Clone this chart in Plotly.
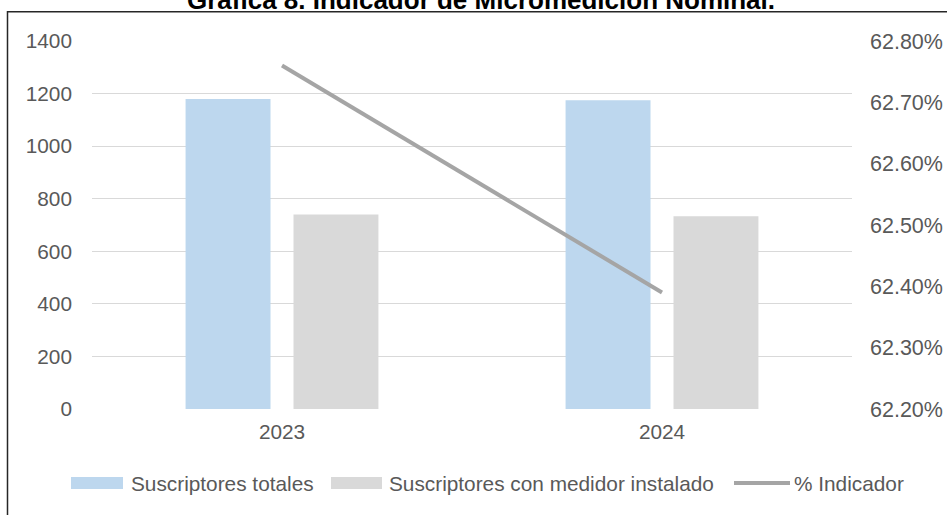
import plotly.graph_objects as go

# --- data -------------------------------------------------------------
years = ["2023", "2024"]
suscriptores_totales = [1179, 1175]
suscriptores_con_medidor = [740, 733]
indicador_pct = [62.76, 62.39]          # % Indicador (right axis)

left_ticks = [0, 200, 400, 600, 800, 1000, 1200, 1400]
right_ticks = [62.2, 62.3, 62.4, 62.5, 62.6, 62.7, 62.8]
right_ticktext = ["62.20%", "62.30%", "62.40%", "62.50%", "62.60%", "62.70%", "62.80%"]

title_text = "Gráfica 8. Indicador de Micromedición Nominal."
names = ["Suscriptores totales", "Suscriptores con medidor instalado", "% Indicador"]

# --- styling ----------------------------------------------------------
BLUE = "#BDD7EE"
GREY_BAR = "#D9D9D9"
GREY_LINE = "#A5A5A5"
TEXT = "#595959"
FONT = "Liberation Sans, Arial, sans-serif"
FS = 20.8

W, H = 947, 515
ML, MR, MT, MB = 92, 95, 41, 106
PW, PH = W - ML - MR, H - MT - MB


def px_x(x):
    return (x - ML) / PW


def px_y(y):
    return (H - MB - y) / PH


fig = go.Figure()
fig.add_trace(go.Bar(x=years, y=suscriptores_totales, name=names[0],
                     marker=dict(color=BLUE, line=dict(width=0))))
fig.add_trace(go.Bar(x=years, y=suscriptores_con_medidor, name=names[1],
                     marker=dict(color=GREY_BAR, line=dict(width=0))))
fig.add_trace(go.Scatter(x=years, y=indicador_pct, name=names[2], yaxis="y2",
                         mode="lines", line=dict(color=GREY_LINE, width=4)))

fig.update_layout(
    width=W, height=H,
    margin=dict(l=ML, r=MR, t=MT, b=MB, autoexpand=False),
    paper_bgcolor="white", plot_bgcolor="white",
    barmode="group", bargap=0.432, bargroupgap=0.213,
    showlegend=False,
    font=dict(family=FONT, size=FS, color=TEXT),
    xaxis=dict(type="category", range=[-0.5, 1.5], showgrid=False,
               showline=False, zeroline=False, ticks="", automargin=False,
               ticklabelstandoff=8,
               tickfont=dict(family=FONT, size=FS, color=TEXT)),
    yaxis=dict(range=[0, 1400], tickvals=left_ticks, showgrid=True,
               gridcolor="#D9D9D9", gridwidth=1, zeroline=False,
               showline=False, ticks="", ticklabelstandoff=19, automargin=False,
               tickfont=dict(family=FONT, size=FS, color=TEXT)),
    yaxis2=dict(range=[62.2, 62.8], overlaying="y", side="right",
                tickvals=right_ticks, ticktext=right_ticktext,
                showgrid=False, zeroline=False, showline=False, ticks="",
                ticklabelstandoff=17, automargin=False,
                tickfont=dict(family=FONT, size=21.5, color=TEXT)),
)

shapes = []
annotations = []

# outer frame of the chart box
shapes.append(dict(type="rect", xref="paper", yref="paper",
                   x0=px_x(7.5), x1=px_x(1000), y0=px_y(700), y1=px_y(11.7),
                   line=dict(color="#262626", width=1.5),
                   fillcolor="rgba(0,0,0,0)", layer="below"))

# title (runs off the top edge of the page)
annotations.append(dict(text="<b>" + title_text + "</b>", xref="paper", yref="paper",
                        x=px_x(481), y=px_y(17), xanchor="center", yanchor="bottom",
                        showarrow=False,
                        font=dict(family=FONT, size=26, color="black")))

# legend built from the series names and colours
legend_y = px_y(483)
legend_items = [
    (names[0], "bar", BLUE, 71, 123, 129),
    (names[1], "bar", GREY_BAR, 331, 382, 387),
    (names[2], "line", GREY_LINE, 734, 790, 792),
]
for name, kind, color, sx0, sx1, tx in legend_items:
    if kind == "bar":
        shapes.append(dict(type="rect", xref="paper", yref="paper",
                           x0=px_x(sx0), x1=px_x(sx1),
                           y0=px_y(489), y1=px_y(477),
                           fillcolor=color, line=dict(width=0)))
    else:
        shapes.append(dict(type="line", xref="paper", yref="paper",
                           x0=px_x(sx0), x1=px_x(sx1), y0=legend_y, y1=legend_y,
                           line=dict(color=color, width=4)))
    annotations.append(dict(text=name, xref="paper", yref="paper",
                            x=px_x(tx), y=legend_y, xanchor="left", yanchor="middle",
                            showarrow=False,
                            font=dict(family=FONT, size=FS, color=TEXT)))

fig.update_layout(shapes=shapes, annotations=annotations)
fig.write_html("out.html")
